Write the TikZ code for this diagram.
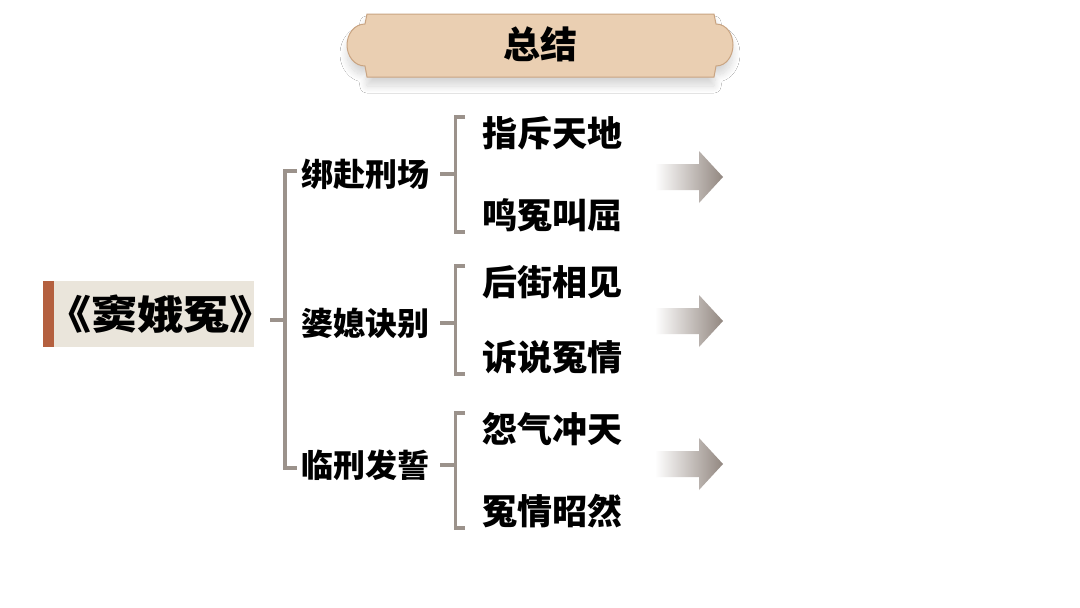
\documentclass[tikz,border=0pt]{standalone}
\usepackage{fontspec}
\newfontfamily\cjk{Noto Sans CJK SC}
\usetikzlibrary{positioning,shadows.blur}

\definecolor{bannertan}{HTML}{EACFB2}
\definecolor{bannerrim}{HTML}{C9A482}
\definecolor{mainbg}{HTML}{EAE5DB}
\definecolor{accent}{HTML}{B4603F}
\definecolor{linkgray}{HTML}{9B928B}
\definecolor{arrowgray}{HTML}{928780}

\tikzset{
  link/.style={draw=linkgray, line width=3.5pt},
  lvlone/.style={anchor=west, inner sep=0pt, font=\cjk\bfseries\fontsize{32}{32}\selectfont},
  lvltwo/.style={anchor=west, inner sep=0pt, font=\cjk\bfseries\fontsize{35}{35}\selectfont},
}

\begin{document}
\begin{tikzpicture}[x=1pt,y=-1pt]
  \useasboundingbox[fill=white] (0,0) rectangle (1080,608);

  % title banner
  \draw[bannerrim, fill=bannertan, line width=1pt,
        blur shadow={shadow blur steps=14, shadow blur radius=7pt, shadow xshift=0pt, shadow yshift=-9pt, shadow opacity=16}]
    (367,14) -- (714,14) -- (716,24) to[out=0,in=90] (733,45) to[out=-90,in=0] (716,66)
    -- (714,77) -- (367,77) -- (365,66) to[out=180,in=-90] (347,45) to[out=90,in=180] (365,24) -- cycle;
  \node[font=\cjk\bfseries\fontsize{37}{37}\selectfont] (title) at (540,44) {总结};

  % main box
  \node[fill=mainbg, minimum width=211pt, minimum height=66pt, inner sep=0pt, anchor=west] (main) at (43,314) {};
  \fill[accent] (main.north west) rectangle ([xshift=11pt]main.south west);
  \node[inner sep=0pt, xscale=1.15, transform shape, font=\cjk\bfseries\fontsize{40}{40}\selectfont] (maintext) at (160,314) {《窦娥冤》};

  % first level
  \node[lvlone] (b1) at (301,174) {绑赴刑场};
  \node[lvlone] (b2) at (301,323) {婆媳诀别};
  \node[lvlone] (b3) at (301,465) {临刑发誓};

  % second level
  \node[lvltwo] (c1) at (482,133) {指斥天地};
  \node[lvltwo] (c2) at (482,215) {鸣冤叫屈};
  \node[lvltwo] (c3) at (482,282) {后街相见};
  \node[lvltwo] (c4) at (482,357) {诉说冤情};
  \node[lvltwo] (c5) at (482,429) {怨气冲天};
  \node[lvltwo] (c6) at (482,511) {冤情昭然};

  % brackets
  \coordinate (s0) at (270,320);
  \coordinate (j0) at (285,320);
  \draw[link] (s0) -- (j0);
  \draw[link] ([xshift=-4pt,yshift=3pt]b1.west) -| (j0) |- ([xshift=-4pt,yshift=-3pt]b3.west);

  \foreach \i/\up/\dn in {1/c1/c2, 2/c3/c4, 3/c5/c6} {
    \draw[link] ([xshift=11pt]b\i.east) -- ++(15,0) coordinate (k\i);
    \draw[link] ([xshift=-17pt,yshift=16pt]\up.west) -| (k\i) |- ([xshift=-17pt,yshift=-17pt]\dn.west);
  }

  % arrows
  \foreach \y in {177,321,464} {
    \shade[left color=white, right color=arrowgray]
      (655,\y-13) -- (699,\y-13) -- (699,\y-26) -- (723,\y) -- (699,\y+26)
      -- (699,\y+13) -- (655,\y+13) -- cycle;
  }
\end{tikzpicture}
\end{document}
